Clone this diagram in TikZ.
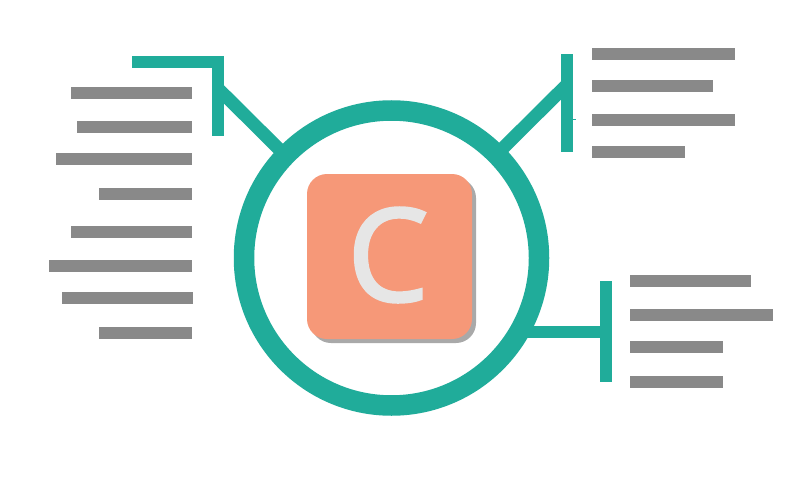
\documentclass[tikz,border=0pt]{standalone}
\usepackage{fontspec}
\setmainfont{Open Sans}
\newfontfamily\letterfont[FakeBold=2.2]{Open Sans}
\definecolor{teal1}{HTML}{20AC9A}
\definecolor{greybar}{HTML}{898989}
\definecolor{salmon}{HTML}{F69878}
\definecolor{shadowgrey}{HTML}{A9A9A9}
\definecolor{lettergrey}{HTML}{E6E6E6}
\newcommand{\blk}[6][barbox]{\node[#1,minimum width={(#5-#3)*1pt},minimum height={(#6-#4)*1pt}] (#2) at ({(#3+#5)/2},{(#4+#6)/2}) {};}
\tikzset{
  barbox/.style={fill=greybar,inner sep=0pt,outer sep=0pt,draw=none,rectangle},
  tealbox/.style={fill=teal1,inner sep=0pt,outer sep=0pt,draw=none,rectangle},
  link/.style={draw=teal1,line width=12pt},
  ringstyle/.style={circle,draw=teal1,line width=20.5pt,fill=white,inner sep=0pt,minimum size=295pt},
  tile/.style={rectangle,rounded corners=20pt,inner sep=0pt,outer sep=0pt,minimum width=165pt,minimum height=165pt}
}
\begin{document}
\begin{tikzpicture}[x=1pt,y=-1pt]
\useasboundingbox (0,0) rectangle (800,500);
\fill[white] (0,0) rectangle (800,500);
% connectors (behind ring)
\coordinate (tlstart) at (218,88.5);
\coordinate (tlend) at (288,158);
\coordinate (trstart) at (567,84.5);
\coordinate (trend) at (495,156);
\coordinate (brstart) at (606,332);
\coordinate (brend) at (515,332);
\draw[link,line width=13pt] (tlstart) -- (tlend);
\draw[link,line width=13pt] (trstart) -- (trend);
\draw[link] (brstart) -- (brend);
% ring
\node[ringstyle] (ring) at (391.5,258) {};
% brackets
\blk[tealbox]{tlh}{132}{56}{224}{68}
\blk[tealbox]{tlv}{212}{56}{224}{136}
\blk[tealbox]{trv}{561}{54}{573}{152}
\blk[tealbox]{brv}{600}{281}{612}{382}
\coordinate (tickend) at (576,119.5);
\draw[draw=teal1,line width=0.6pt] (trv.east |- tickend) -- (tickend);
% tile
\node[tile,fill=shadowgrey] (shadow) at (393.5,260.5) {};
\node[tile,fill=salmon] (tile) at (389.5,256.5) {};
\node[inner sep=0pt,text=lettergrey,font=\letterfont\fontsize{129}{129}\selectfont] (letter) at (388,255) {C};
% left bars
\blk{l1}{71}{87}{192}{99}
\blk{l2}{77}{121}{192}{133}
\blk{l3}{56}{153}{192}{165}
\blk{l4}{99}{188}{192}{200}
\blk{l5}{71}{226}{192}{238}
\blk{l6}{49}{260}{192}{272}
\blk{l7}{62}{292}{193}{304}
\blk{l8}{99}{327}{192}{339}
% top right bars
\blk{r1}{592}{48}{735}{60}
\blk{r2}{592}{80}{713}{92}
\blk{r3}{592}{114}{735}{126}
\blk{r4}{592}{146}{685}{158}
% lower right bars
\blk{s1}{630}{275}{751}{287}
\blk{s2}{630}{309}{773}{321}
\blk{s3}{630}{341}{723}{353}
\blk{s4}{630}{376}{723}{388}
\end{tikzpicture}
\end{document}
